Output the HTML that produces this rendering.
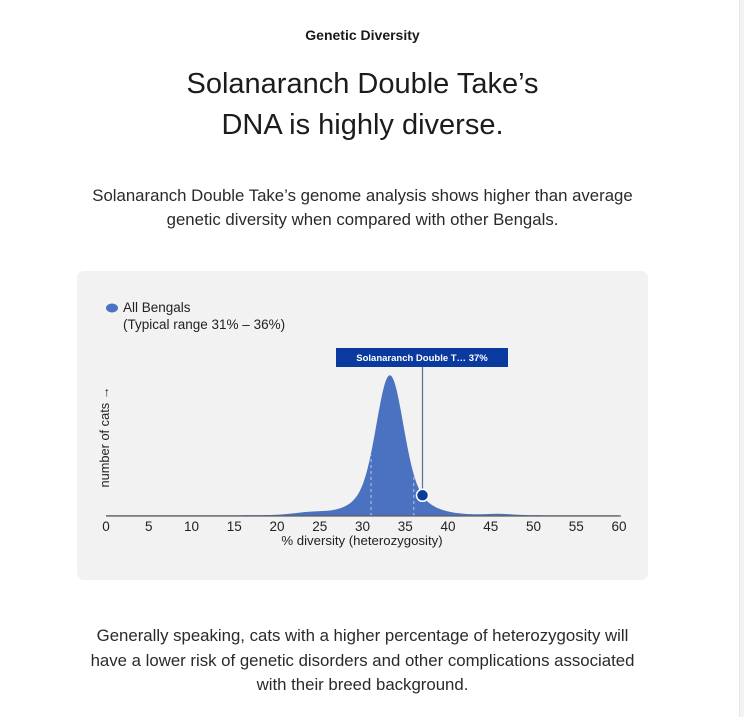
<!DOCTYPE html>
<html><head><meta charset="utf-8"><style>
html,body{margin:0;padding:0;background:#fff;}
body{width:744px;height:717px;position:relative;overflow:hidden;font-family:"Liberation Sans",sans-serif;color:#222;}
.c{position:absolute;left:0;width:725px;text-align:center;}
#sb{position:absolute;left:739px;top:0;width:5px;height:717px;background:#f3f3f3;border-left:1px solid #e6e6e6;}
#panel{position:absolute;left:77px;top:271px;width:571px;height:309px;background:#f2f2f2;border-radius:7px;}
svg{position:absolute;left:0;top:0;}
</style></head><body>
<div id="sb"></div>
<div class="c" style="top:27px;font-size:14px;font-weight:bold;color:#1a1a1a;">Genetic Diversity</div>
<div class="c" style="top:64px;font-size:29px;line-height:41px;color:#1c1c1c;">Solanaranch Double Take’s<br>DNA is highly diverse.</div>
<div class="c" style="top:184px;font-size:16.8px;line-height:23.5px;color:#2a2a2a;">Solanaranch Double Take’s genome analysis shows higher than average<br>genetic diversity when compared with other Bengals.</div>
<div id="panel"></div>
<svg width="744" height="717" viewBox="0 0 744 717">
  <ellipse cx="112" cy="308" rx="6" ry="4.5" fill="#4a72c0"/>
  <text x="123" y="312" font-size="13.5" fill="#222" font-family="Liberation Sans, sans-serif">All Bengals</text>
  <text x="123" y="329" font-size="13.5" fill="#222" font-family="Liberation Sans, sans-serif">(Typical range 31% – 36%)</text>
  <path id="curve" d="" fill="#4a72c0"/>
  <line id="d1" stroke="#ffffff" stroke-opacity="0.6" stroke-dasharray="3,3" stroke-width="1"/>
  <line id="d2" stroke="#ffffff" stroke-opacity="0.6" stroke-dasharray="3,3" stroke-width="1"/>
  <line x1="106" y1="516" x2="621" y2="516" stroke="#5e5e5e" stroke-width="1.3"/>
  <line x1="422.5" y1="367" x2="422.5" y2="496" stroke="#5b6f98" stroke-width="1.2"/>
  <circle id="dot" cx="422.5" cy="496" r="6" fill="#0b3d9e" stroke="#fff" stroke-width="1.5"/>
  <rect x="336" y="348" width="172" height="19" fill="#0b3a9e"/>
  <text x="422" y="361" font-size="9.5" font-weight="bold" fill="#fff" text-anchor="middle" font-family="Liberation Sans, sans-serif">Solanaranch Double T… 37%</text>
  <g font-size="13.5" fill="#222" text-anchor="middle" font-family="Liberation Sans, sans-serif">
    <text x="106" y="531">0</text><text x="148.75" y="531">5</text><text x="191.5" y="531">10</text>
    <text x="234.25" y="531">15</text><text x="277" y="531">20</text><text x="319.75" y="531">25</text>
    <text x="362.5" y="531">30</text><text x="405.25" y="531">35</text><text x="448" y="531">40</text>
    <text x="490.75" y="531">45</text><text x="533.5" y="531">50</text><text x="576.25" y="531">55</text>
    <text x="619" y="531">60</text>
  </g>
  <text x="362" y="545" font-size="13.2" fill="#222" text-anchor="middle" font-family="Liberation Sans, sans-serif">% diversity (heterozygosity)</text>
  <text transform="translate(109,437) rotate(-90)" font-size="12.8" fill="#222" text-anchor="middle" font-family="Liberation Sans, sans-serif">number of cats →</text>
</svg>
<div class="c" style="top:624px;font-size:16.8px;line-height:24.5px;color:#2a2a2a;">Generally speaking, cats with a higher percentage of heterozygosity will<br>have a lower risk of genetic disorders and other complications associated<br>with their breed background.</div>
<script>
function g(v,mu,s){return Math.exp(-Math.pow(v-mu,2)/(2*s*s));}
function f(v){
  var m=107*g(v,33.2,1.5);
  var mid=28*g(v,33.2,2.9);
  var w=5*g(v,33.2,5);
  var b1=2.5*g(v,24,2);
  var b3=1.2*g(v,46,1.5);
  return m+mid+w+b1+b3+0.8;
}
function X(v){return 106+v*8.55;}
var d="M106,516";
for(var v=0;v<=60.001;v+=0.1){d+=" L"+X(v).toFixed(2)+","+(516-f(v)).toFixed(2);}
d+=" L"+X(60)+",516 Z";
document.getElementById('curve').setAttribute('d',d);
[['d1',31],['d2',36]].forEach(function(p){var e=document.getElementById(p[0]);e.setAttribute('x1',X(p[1]));e.setAttribute('x2',X(p[1]));e.setAttribute('y1',516);e.setAttribute('y2',516-f(p[1])+2);});
document.getElementById('dot').setAttribute('cy',(516-f(37)).toFixed(1));
</script>
</body></html>
